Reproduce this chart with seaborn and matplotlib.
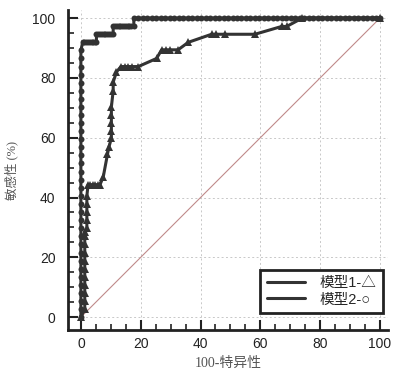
import matplotlib

matplotlib.use("Agg")

import matplotlib.pyplot as plt
import pandas as pd
import seaborn as sns
from matplotlib.lines import Line2D
from matplotlib.ticker import MultipleLocator

# ROC points (x = 100-特异性, y = 敏感性 %)
top_x = [17.7, 19.2, 20.7, 22.2, 23.7, 25.2, 26.7, 28.2, 29.7, 31.2, 32.7, 34.2,
         35.7, 37.2, 38.7, 40.2, 41.7, 43.2, 44.7, 46.2, 47.7, 49.2, 50.7, 52.2,
         53.7, 55.2, 56.7, 58.2, 59.7, 61.2, 62.7, 64.2, 65.7, 67.2, 68.7, 70.2,
         71.7, 73.2, 74.7, 76.2, 77.7, 79.2, 80.7, 82.2, 83.7, 85.2, 86.7, 88.2,
         89.7, 91.2, 92.7, 94.2, 95.7, 97.2, 98.7, 100.0]

m2_fpr = ([0.0] * 34
          + [0.6, 1.2, 1.8, 2.4, 3.0, 3.6, 4.2, 4.8, 5.2]
          + [5.2, 5.8, 6.4, 7.0, 7.6, 8.2, 8.8, 9.4, 10.0, 10.8]
          + [10.8, 11.4, 12.0, 12.6, 13.2, 13.8, 14.4, 15.0, 15.6, 16.2, 16.8, 17.7]
          + top_x)
m2_tpr = ([0.0, 2.7, 5.4, 8.1, 10.8, 13.5, 16.2, 18.9, 21.6, 24.3, 27.0, 29.7,
           32.4, 35.1, 37.8, 40.5, 43.2, 45.9, 48.6, 51.4, 54.1, 56.8, 59.5, 62.2,
           64.9, 67.6, 70.3, 73.0, 75.7, 78.4, 81.1, 83.8, 86.5, 89.2]
          + [91.9] * 9 + [94.6] * 10 + [97.3] * 12 + [100.0] * len(top_x))

m1_fpr = [0.0, 1.3, 1.3, 1.3, 1.3, 1.3, 1.3, 1.3, 1.3, 1.3, 1.3, 1.3,
          2.0, 2.0, 2.0, 2.0, 2.0, 2.4, 3.2, 4.0, 4.8, 5.6, 6.4, 7.5,
          8.9, 9.4, 10.2, 10.2, 10.2, 10.2, 10.2, 10.8, 10.8, 11.9, 13.4,
          14.6, 15.8, 17.0, 19.2, 25.3, 27.0, 28.4, 29.8, 32.5, 35.9,
          43.7, 45.3, 48.2, 58.2, 67.1, 68.8, 74.0, 100.0]
m1_tpr = [0.0, 2.7, 5.4, 8.1, 10.8, 13.5, 16.2, 18.9, 21.6, 24.3, 27.0, 28.5,
          29.7, 32.4, 35.1, 37.8, 40.5, 44.3, 44.3, 44.3, 44.3, 44.3, 44.3, 47.0,
          54.5, 57.0, 59.8, 62.2, 64.9, 67.6, 70.3, 75.7, 78.6, 82.0, 83.8,
          83.8, 83.8, 83.8, 83.8, 86.5, 89.4, 89.4, 89.4, 89.4, 91.9,
          94.6, 94.6, 94.6, 94.6, 97.2, 97.2, 100.0, 100.0]

diag = [0, 100]

labels = ["模型1-△", "模型2-○"]

m1 = pd.DataFrame({"fpr": m1_fpr, "tpr": m1_tpr})
m2 = pd.DataFrame({"fpr": m2_fpr, "tpr": m2_tpr})

sns.set_style("ticks")
plt.rcParams["font.family"] = ["Liberation Sans", "Noto Sans CJK SC", "DejaVu Sans"]
plt.rcParams["xtick.direction"] = "in"
plt.rcParams["ytick.direction"] = "in"

fig = plt.figure(figsize=(3.98, 3.76), dpi=100)
ax = fig.add_axes([0.1709, 0.1223, 0.804, 0.851])

dark = "#333333"
ax.plot(diag, diag, color="#c08a8a", lw=0.8, zorder=2)
sns.lineplot(data=m1, x="fpr", y="tpr", color=dark, marker="^", markersize=5.5,
             markeredgewidth=0, linewidth=2.2, estimator=None, sort=False,
             ax=ax, zorder=3)
sns.lineplot(data=m2, x="fpr", y="tpr", color=dark, marker="o", markersize=4.3,
             markeredgewidth=0, linewidth=2.2, estimator=None, sort=False,
             ax=ax, zorder=3)

ax.set_xlim(-4.3, 102.7)
ax.set_ylim(-4.3, 102.7)
ax.xaxis.set_major_locator(MultipleLocator(20))
ax.yaxis.set_major_locator(MultipleLocator(20))
ax.xaxis.set_minor_locator(MultipleLocator(5))
ax.yaxis.set_minor_locator(MultipleLocator(5))
ax.tick_params(which="major", direction="in", length=7, width=1.5, labelsize=10,
               colors="#222222", labelcolor="#222222")
ax.tick_params(which="minor", direction="in", length=4, width=1.2, colors="#222222")
ax.tick_params(axis="y", which="major", pad=9)
ax.tick_params(axis="x", which="major", pad=5)
ax.grid(False, which="minor")
ax.grid(True, which="major", linestyle=(0, (2, 2.5)), color="#c8c8c8", linewidth=0.7)
ax.set_axisbelow(True)

for side in ["top", "right"]:
    ax.spines[side].set_visible(False)
for side in ["left", "bottom"]:
    ax.spines[side].set_linewidth(2)
    ax.spines[side].set_color("#222222")

serif_cjk = ["Liberation Serif", "Noto Sans CJK SC"]
ax.set_xlabel("100-特异性", family=serif_cjk, fontsize=10, color="#555555", labelpad=4)
ax.set_ylabel("敏感性 (%)", family=serif_cjk, fontsize=9, color="#555555", labelpad=10)

handles = [Line2D([], [], color=dark, lw=2.2) for _ in labels]
leg = ax.legend(handles, labels, loc="lower right", bbox_to_anchor=(0.984, 0.053),
                borderaxespad=0, frameon=True, fancybox=False, fontsize=10.5,
                handlelength=2.6, handletextpad=1.0, labelspacing=0.15,
                borderpad=0.45)
leg.get_frame().set_edgecolor("#222222")
leg.get_frame().set_linewidth(2)
leg.get_frame().set_alpha(1)

fig.savefig("out.png", dpi=100)
